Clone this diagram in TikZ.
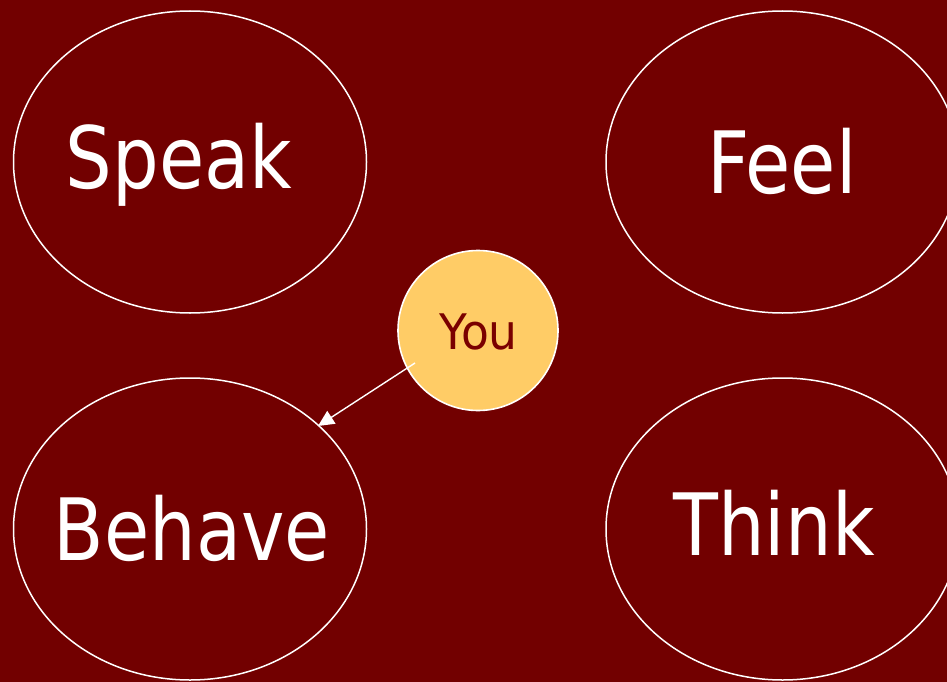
\documentclass[tikz,border=0pt]{standalone}
\usepackage{fontspec}
\setmainfont[FakeStretch=0.855]{DejaVu Sans}
\newfontfamily\youfont[FakeStretch=0.93]{DejaVu Sans}
\usetikzlibrary{shapes.geometric,arrows.meta}
\definecolor{bgred}{HTML}{720000}
\definecolor{youfill}{HTML}{FFCC66}
\definecolor{youtext}{HTML}{7A0000}
\tikzset{
  oval/.style={ellipse, draw=white, line width=1.5pt, minimum width=353pt, minimum height=302pt, inner sep=0pt},
  bigword/.style={text=white, font=\fontsize{86}{86}\selectfont, anchor=base, inner sep=0pt},
  youcirc/.style={circle, draw=white, line width=1.6pt, fill=youfill, minimum size=160pt, inner sep=0pt},
  youword/.style={text=youtext, font=\youfont\fontsize{49}{49}\selectfont, anchor=base, inner sep=0pt},
  pointer/.style={draw=white, line width=1.4pt, -{Triangle[length=16pt,width=15pt]}}
}
\begin{document}
\begin{tikzpicture}[x=1pt,y=-1pt]
\fill[bgred] (0,0) rectangle (947,682);
\useasboundingbox (0,0) rectangle (947,682);
\begin{scope}
\clip (0,0) rectangle (947,682);
\node[oval] (speak) at (190,162) {};
\node[oval] (feel) at (782.5,162) {};
\node[oval] (behave) at (190,529) {};
\node[oval] (think) at (782.5,529) {};
\end{scope}
\node[bigword] (speakt) at (179,188) {Speak};
\node[bigword] (feelt) at (782,193) {Feel};
\node[bigword] (behavet) at (192,560) {Behave};
\node[bigword] (thinkt) at (774,555) {Think};
\node[youcirc] (you) at (478,330.5) {};
\node[youword] (yout) at (478.5,349) {You};
\coordinate (start) at (415,363);
\coordinate (tip) at (318,426);
\draw[pointer] (start) -- (tip);
\end{tikzpicture}
\end{document}
